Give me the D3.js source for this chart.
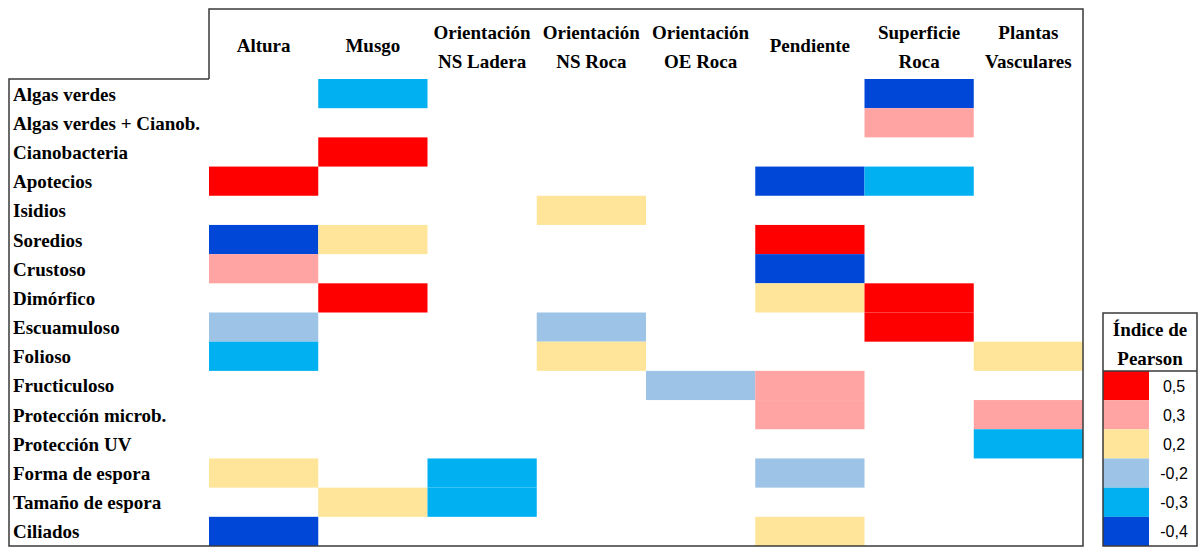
<!DOCTYPE html>
<html>
<head>
<meta charset="utf-8">
<script src="https://cdn.jsdelivr.net/npm/d3@7"></script>
<style>
  html, body { margin: 0; padding: 0; background: #fff; }
</style>
</head>
<body>
<svg id="chart" width="1200" height="547"></svg>
<script>
// variables (columns), headers split in lines
const columns = ["Altura", "Musgo", "Orientación NS Ladera", "Orientación NS Roca", "Orientación OE Roca", "Pendiente", "Superficie Roca", "Plantas Vasculares"];
const columnLines = [["Altura"], ["Musgo"], ["Orientación", "NS Ladera"], ["Orientación", "NS Roca"], ["Orientación", "OE Roca"], ["Pendiente"], ["Superficie", "Roca"], ["Plantas", "Vasculares"]];

const rows = ["Algas verdes", "Algas verdes + Cianob.", "Cianobacteria", "Apotecios", "Isidios", "Soredios", "Crustoso", "Dimórfico", "Escuamuloso", "Folioso", "Fructiculoso", "Protección microb.", "Protección UV", "Forma de espora", "Tamaño de espora", "Ciliados"];

// Pearson index per row, one entry per column (null = not significant)
const values = [
  [null, -0.3, null, null, null, null, -0.4, null],
  [null, null, null, null, null, null, 0.3, null],
  [null, 0.5, null, null, null, null, null, null],
  [0.5, null, null, null, null, -0.4, -0.3, null],
  [null, null, null, 0.2, null, null, null, null],
  [-0.4, 0.2, null, null, null, 0.5, null, null],
  [0.3, null, null, null, null, -0.4, null, null],
  [null, 0.5, null, null, null, 0.2, 0.5, null],
  [-0.2, null, null, -0.2, null, null, 0.5, null],
  [-0.3, null, null, 0.2, null, null, null, 0.2],
  [null, null, null, null, -0.2, 0.3, null, null],
  [null, null, null, null, null, 0.3, null, 0.3],
  [null, null, null, null, null, null, null, -0.3],
  [0.2, null, -0.3, null, null, -0.2, null, null],
  [null, 0.2, -0.3, null, null, null, null, null],
  [-0.4, null, null, null, null, 0.2, null, null]
];

const legendValues = [0.5, 0.3, 0.2, -0.2, -0.3, -0.4];
const legendLabels = ["0,5", "0,3", "0,2", "-0,2", "-0,3", "-0,4"];
const legendColors = ["#ff0000", "#ffa3a3", "#ffe599", "#9dc3e6", "#00b0f0", "#0047d8"];

const serif = "'Times New Roman', 'Liberation Serif', 'DejaVu Serif', serif";
const sans = "'Liberation Sans', Arial, sans-serif";

const svg = d3.select("#chart");
const frame = { left: 9, top: 9, colStart: 209, headBottom: 79, right: 1083, bottom: 546 };

const x = d3.scaleBand().domain(columns).range([frame.colStart, frame.right]);
const y = d3.scaleBand().domain(rows).range([frame.headBottom, frame.bottom]);
const color = d3.scaleOrdinal().domain(legendValues).range(legendColors);

const cells = [];
values.forEach((r, i) => r.forEach((v, j) => {
  if (v !== null) cells.push({ row: rows[i], col: columns[j], v });
}));

svg.append("g")
  .selectAll("rect")
  .data(cells)
  .join("rect")
  .attr("x", (d) => x(d.col))
  .attr("y", (d) => y(d.row))
  .attr("width", x.bandwidth())
  .attr("height", y.bandwidth())
  .attr("fill", (d) => color(d.v));

// frame around the table
svg.append("path")
  .attr("d", `M${frame.colStart},${frame.headBottom} V${frame.top} H${frame.right} V${frame.bottom} H${frame.left} V${frame.headBottom} H${frame.colStart}`)
  .attr("fill", "none")
  .attr("stroke", "#3a3a3a")
  .attr("stroke-width", 1.5);

// column headers
const head = svg.append("g")
  .attr("font-family", serif)
  .attr("font-weight", "bold")
  .selectAll("text")
  .data(columns)
  .join("text")
  .attr("text-anchor", "middle")
  .attr("font-size", 19)
  .attr("x", (d) => x(d) + x.bandwidth() / 2)
  .attr("y", (d, i) => (columnLines[i].length === 1 ? 52 : 39));
head.selectAll("tspan")
  .data((d, i) => columnLines[i])
  .join("tspan")
  .attr("x", function () { return this.parentNode.getAttribute("x"); })
  .attr("dy", (d, i) => (i === 0 ? 0 : 28.5))
  .text((d) => d);

// row labels
svg.append("g")
  .attr("font-family", serif)
  .attr("font-weight", "bold")
  .selectAll("text")
  .data(rows)
  .join("text")
  .attr("font-size", 19)
  .attr("x", 13)
  .attr("y", (d) => y(d) + y.bandwidth() / 2 + 7)
  .text((d) => d);

// legend
const lg = { left: 1103, right: 1197, top: 313, sep: 371, bottom: 546, swatch: 1149 };
const ly = d3.scaleBand().domain(legendValues).range([lg.sep, lg.bottom]);
const legend = svg.append("g");

legend.selectAll("rect")
  .data(legendValues)
  .join("rect")
  .attr("x", lg.left)
  .attr("y", (d) => ly(d))
  .attr("width", lg.swatch - lg.left)
  .attr("height", ly.bandwidth())
  .attr("fill", (d) => color(d));

legend.selectAll("text.val")
  .data(legendValues)
  .join("text")
  .attr("class", "val")
  .attr("text-anchor", "middle")
  .attr("x", 1174)
  .attr("y", (d) => ly(d) + ly.bandwidth() / 2 + 6)
  .attr("font-family", sans)
  .attr("font-size", 16)
  .text((d, i) => legendLabels[i]);

legend.append("rect")
  .attr("x", lg.left)
  .attr("y", lg.top)
  .attr("width", lg.right - lg.left)
  .attr("height", lg.bottom - lg.top)
  .attr("fill", "none")
  .attr("stroke", "#3a3a3a")
  .attr("stroke-width", 1.5);

legend.append("line")
  .attr("x1", lg.left)
  .attr("x2", lg.right)
  .attr("y1", lg.sep)
  .attr("y2", lg.sep)
  .attr("stroke", "#3a3a3a")
  .attr("stroke-width", 1.5);

legend.selectAll("text.title")
  .data(["Índice de", "Pearson"])
  .join("text")
  .attr("class", "title")
  .attr("text-anchor", "middle")
  .attr("font-family", serif)
  .attr("font-weight", "bold")
  .attr("font-size", 19)
  .attr("x", (lg.left + lg.right) / 2)
  .attr("y", (d, i) => 336 + i * 29)
  .text((d) => d);
</script>
</body>
</html>
